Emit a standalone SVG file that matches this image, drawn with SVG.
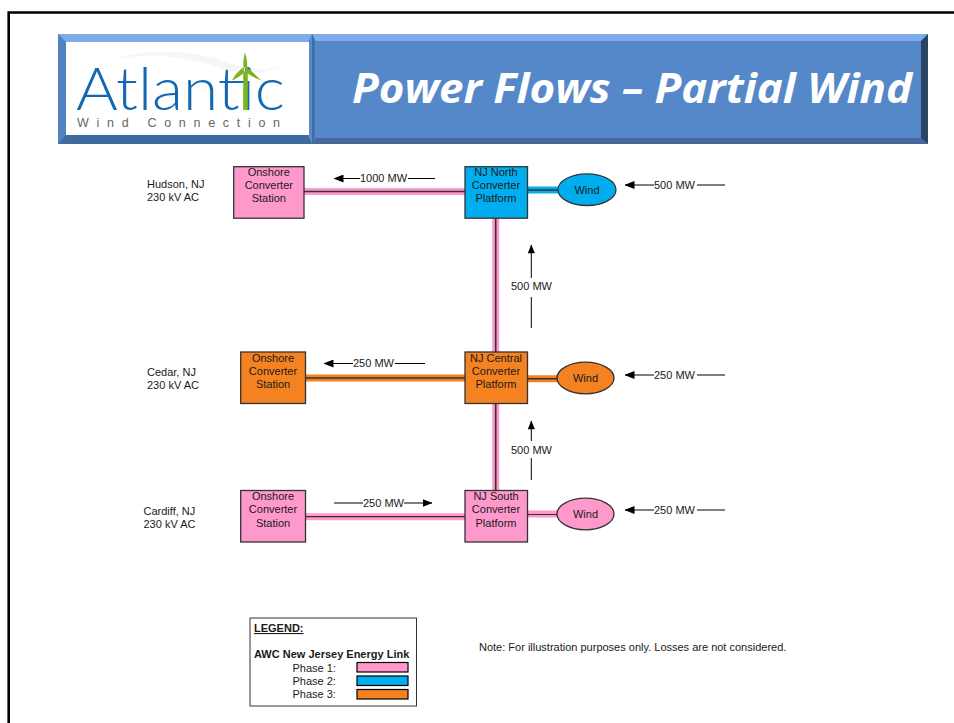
<svg xmlns="http://www.w3.org/2000/svg" width="954" height="723" viewBox="0 0 954 723">
<style>
text{font-family:"Liberation Sans",Arial,sans-serif;font-size:11px;fill:#1a1a1a}
.c{text-anchor:middle}
.box{stroke:#333;stroke-width:1.3}
.pink{fill:#ff99cc}.blue{fill:#00aeef}.orange{fill:#f58220}
.out{fill:none;stroke-width:7}
.in{fill:none;stroke:#333;stroke-width:1.6}
.flow{fill:none;stroke:#000;stroke-width:1;}
.swatch{stroke:#000;stroke-width:1.2}
</style>
<defs>
<marker id="ah" viewBox="0 0 10 8" refX="9.5" refY="4" markerWidth="10" markerHeight="8" markerUnits="userSpaceOnUse" orient="auto"><path d="M0 0L10 4L0 8Z" fill="#000"/></marker>
<marker id="ah2" viewBox="0 0 10 8" refX="9.5" refY="4" markerWidth="12" markerHeight="7" markerUnits="userSpaceOnUse" orient="auto"><path d="M0 0L10 4L0 8Z" fill="#000"/></marker>
</defs>
<rect width="954" height="723" fill="#fff"/>
<path id="frame" d="M954 12.5H8.7V723" fill="none" stroke="#000" stroke-width="2.6"/>

<g id="logo-banner">
<rect x="58" y="34" width="254" height="110" fill="#5a8ac8"/>
<path d="M58 34H312L308 42H66Z" fill="#7fabe8"/>
<path d="M58 144H312L308 135H66Z" fill="#3f6a9f"/>
<path d="M58 34L66 42V135L58 144Z" fill="#5084c0"/>
<rect x="66" y="42" width="243" height="93" fill="#fff"/>
<path d="M110 60C150 48 190 50 220 60S265 72 285 64C262 78 235 74 210 65S145 52 110 60Z" fill="#f5f6f7"/>
<text x="76" y="110" style="font-family:'Lato','Open Sans',sans-serif;font-size:60px;font-weight:300;fill:#1268b3" textLength="209" lengthAdjust="spacingAndGlyphs">Atlant<tspan style="fill:#7ab51d;font-size:60px">i</tspan>c</text>
<path d="M245 52.500C247.500 60 247.500 66 246.800 69L243.800 69C243 66 243 60 245 52.500ZM243.800 67C238 71 234 76 232 80.500C237 78.500 243 74 246.500 70.500ZM246.500 67C252 71 256 76 261.500 80.500C255 78.500 248 74 243.500 70.500Z" fill="#7ab51d"/>
<rect x="243.200" y="72" width="4.600" height="38" fill="#7ab51d"/>
<text x="77" y="127" style="font-size:12.500px;fill:#666;letter-spacing:7.700px">Wind Connection</text>
</g>
<g id="title-banner">
<rect x="312" y="34" width="616" height="110" fill="#5588c8"/>
<path d="M312 34H928L921 41H316Z" fill="#7eabea"/>
<path d="M312 144H928L921 138H316Z" fill="#44699a"/>
<path d="M928 34V144L921 138V41Z" fill="#2a4462"/>
<path d="M312 34L314.500 41V138L312 144Z" fill="#3f6a9f"/>
<text x="352" y="103" style="font-family:'Open Sans',sans-serif;font-size:42px;font-weight:700;font-style:italic;fill:#fff" textLength="560" lengthAdjust="spacingAndGlyphs">Power Flows – Partial Wind</text>
</g>

<g id="connectors">
<path class="out" stroke="#ff99cc" d="M304 191.500H465M495.700 218V352M305 516.700H465M495.700 403V490M527 514H558"/>
<path class="out" stroke="#00aeef" d="M527 190H558"/>
<path class="out" stroke="#f58220" d="M305 378H465M527 378.700H558"/>
<path class="in" d="M304 191.500H465M527 190H558M495.700 218V352M305 378H465M527 378.700H558M495.700 403V490"/>
<path class="in" style="stroke-width:1.200" d="M305 516.700H465M527 514.500H558"/>
<g id="flows">
<path class="flow" marker-end="url(#ah)" d="M360 178.500H334"/><path class="flow" d="M408 178.500H435"/>
<path class="flow" marker-end="url(#ah)" d="M353 363.500H324"/><path class="flow" d="M395 363.500H425"/>
<path class="flow" d="M334 503H363"/><path class="flow" marker-end="url(#ah)" d="M404 503H432"/>
<path class="flow" marker-end="url(#ah)" d="M654 185H625"/><path class="flow" d="M697 185H725"/>
<path class="flow" marker-end="url(#ah)" d="M654 375H625"/><path class="flow" d="M697 375H725"/>
<path class="flow" marker-end="url(#ah)" d="M654 510H625"/><path class="flow" d="M697 510H725"/>
<path class="flow" marker-end="url(#ah2)" d="M531.300 278V245"/><path class="flow" d="M531.300 297V328"/>
<path class="flow" marker-end="url(#ah2)" d="M531.300 441V421"/><path class="flow" d="M531.300 458V480"/>
</g>
</g>

<g id="flow-labels">
<text x="360" y="182">1000 MW</text>
<text x="353" y="367">250 MW</text>
<text x="363" y="506.500">250 MW</text>
<text x="654" y="189">500 MW</text>
<text x="654" y="379">250 MW</text>
<text x="654" y="514">250 MW</text>
<text x="511" y="290">500 MW</text>
<text x="511" y="453.500">500 MW</text>
</g>

<g id="station-hudson"><rect class="box pink" x="233.700" y="166.700" width="70.300" height="51.500"/><text class="c" x="268.800" y="176">Onshore</text><text class="c" x="268.800" y="189">Converter</text><text class="c" x="268.800" y="202">Station</text></g>
<g id="station-cedar"><rect class="box orange" x="240.700" y="352" width="64.800" height="51.500"/><text class="c" x="273" y="362">Onshore</text><text class="c" x="273" y="375">Converter</text><text class="c" x="273" y="388">Station</text></g>
<g id="station-cardiff"><rect class="box pink" x="240.700" y="490.500" width="64.800" height="51.500"/><text class="c" x="273" y="500">Onshore</text><text class="c" x="273" y="513">Converter</text><text class="c" x="273" y="527">Station</text></g>
<g id="platform-north"><rect class="box blue" x="465" y="166.700" width="62.500" height="51.500"/><text class="c" x="496" y="176">NJ North</text><text class="c" x="496" y="189">Converter</text><text class="c" x="496" y="202">Platform</text></g>
<g id="platform-central"><rect class="box orange" x="465" y="352" width="62.500" height="51.500"/><text class="c" x="496" y="362">NJ Central</text><text class="c" x="496" y="375">Converter</text><text class="c" x="496" y="388">Platform</text></g>
<g id="platform-south"><rect class="box pink" x="465" y="490.500" width="62.500" height="51.500"/><text class="c" x="496" y="500">NJ South</text><text class="c" x="496" y="513">Converter</text><text class="c" x="496" y="527">Platform</text></g>
<g id="wind-north"><ellipse class="box blue" cx="587" cy="189.700" rx="29" ry="15.800"/><text class="c" x="587" y="193.500">Wind</text></g>
<g id="wind-central"><ellipse class="box orange" cx="585.500" cy="378" rx="28.500" ry="15.800"/><text class="c" x="585.500" y="382">Wind</text></g>
<g id="wind-south"><ellipse class="box pink" cx="585.500" cy="514" rx="28.500" ry="15.800"/><text class="c" x="585.500" y="517.500">Wind</text></g>

<g id="site-labels">
<text x="147" y="188">Hudson, NJ</text><text x="147" y="201">230 kV AC</text>
<text x="147" y="376">Cedar, NJ</text><text x="147" y="389">230 kV AC</text>
<text x="143.500" y="515">Cardiff, NJ</text><text x="143.500" y="528">230 kV AC</text>
</g>

<g id="legend">
<rect x="250" y="618" width="166.500" height="88" fill="#fff" stroke="#333" stroke-width="1"/>
<text x="254" y="632" font-weight="700" text-decoration="underline">LEGEND:</text>
<text x="254" y="658" font-weight="700">AWC New Jersey Energy Link</text>
<text x="292.500" y="672">Phase 1:</text>
<text x="292.500" y="685">Phase 2:</text>
<text x="292.500" y="698">Phase 3:</text>
<rect class="swatch pink" x="357" y="662.500" width="51" height="9.500"/>
<rect class="swatch blue" x="357" y="676" width="51" height="9.500"/>
<rect class="swatch orange" x="357" y="689.500" width="51" height="9.500"/>
</g>
<text id="note" x="479" y="651">Note: For illustration purposes only. Losses are not considered.</text>
</svg>
